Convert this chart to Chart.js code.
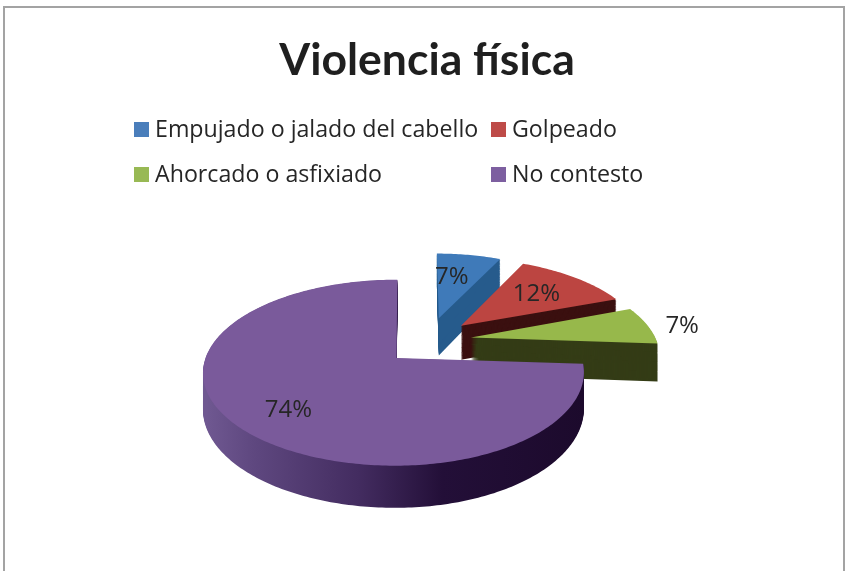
<!DOCTYPE html>
<html lang="es">
<head>
<meta charset="utf-8">
<title>Violencia física</title>
<script src="https://cdn.jsdelivr.net/npm/chart.js@4"></script>
<style>
html,body{margin:0;padding:0;background:#fff;overflow:hidden}
#wrap{position:relative;width:849px;height:571px;overflow:hidden}
#frame{position:absolute;left:3px;top:6px;width:838px;height:600px;border:2px solid #a3a3a3;box-sizing:content-box}
canvas{position:absolute;left:0;top:0}
</style>
</head>
<body>
<div id="wrap"><div id="frame"></div><canvas id="c" width="849" height="571"></canvas></div>
<script>
const categories = ['Empujado o jalado del cabello', 'Golpeado', 'Ahorcado o asfixiado', 'No contesto'];
const values = [7, 12, 7, 74];
const colors = ['#3f7ab9', '#bc4541', '#97b84b', '#7a5a9b'];
const legendSwatches = ['#4a7ebb', '#be4b48', '#98b954', '#7d5fa0'];
const wallColors = ['#265b8c', '#3b1010', '#343c16', null];
const titleText = 'Violencia física';

// Look of the tilted pie
const view = {shiftX: -30.5, shiftY: 0, tilt: 0.475, persp: 0.000826, skew: -0.005};
const explode = [[45, -90], [68, -72], [77, -45], [0, 0]];
const rimShift = [[3, 0], [3, 3], [2, 2], [0, 0]];
const radiusScale = [0.94, 0.98, 0.995, 1.005];
const eastSquash = [1, 1, 1, 0.97];
const depths = [40, 36, 39, 35.5];
const labelSpot = [[0.55, -3, -4], [0.62, 4, 0], [1.2, 3, 4], [0.78, 11, -1]];

function projector(arc, i) {
  const cx = arc.x + view.shiftX, cy = arc.y + view.shiftY;
  return (X, Y, z) => {
    const PX = X + explode[i][0], PY = Y + explode[i][1];
    const w = 1 - view.persp * PY;
    return [cx + (PX + view.skew * PY) / w, cy + (view.tilt * PY + z) / w];
  };
}
function slicePath(ctx, arc, i, z) {
  const p = projector(arc, i), R = arc.outerRadius * radiusScale[i];
  ctx.beginPath();
  const a0 = p(0, 0, z); ctx.moveTo(a0[0], a0[1]);
  const n = Math.max(8, Math.ceil((arc.endAngle - arc.startAngle) * 60));
  for (let k = 0; k <= n; k++) {
    const a = arc.startAngle + (arc.endAngle - arc.startAngle) * k / n;
    let X = R * Math.cos(a);
    if (X > 0) X *= eastSquash[i];
    const q = p(X + rimShift[i][0], R * Math.sin(a) + rimShift[i][1], z);
    ctx.lineTo(q[0], q[1]);
  }
  ctx.closePath();
}
const pie3d = {
  id: 'pie3d',
  beforeDatasetsDraw(chart) {
    const ctx = chart.ctx, arcs = chart.getDatasetMeta(0).data;
    arcs.forEach((arc, i) => {
      let wall = wallColors[i];
      if (!wall) {
        const cx = arc.x + view.shiftX, R = arc.outerRadius;
        wall = ctx.createLinearGradient(cx - R, 0, cx + R, 0);
        wall.addColorStop(0, '#6f5891');
        wall.addColorStop(0.12, '#5f4880');
        wall.addColorStop(0.4, '#432c60');
        wall.addColorStop(0.62, '#230f38');
        wall.addColorStop(1, '#1c0a2c');
      }
      ctx.fillStyle = wall;
      for (let z = depths[i]; z > 0; z--) { slicePath(ctx, arc, i, z); ctx.fill(); }
      ctx.fillStyle = colors[i];
      slicePath(ctx, arc, i, 0); ctx.fill();
    });
    ctx.save();
    ctx.fillStyle = '#262626';
    ctx.font = '24px "Open Sans"';
    ctx.textAlign = 'center'; ctx.textBaseline = 'middle';
    arcs.forEach((arc, i) => {
      const mid = (arc.startAngle + arc.endAngle) / 2, s = labelSpot[i];
      const r = arc.outerRadius * radiusScale[i] * s[0];
      const q = projector(arc, i)(r * Math.cos(mid), r * Math.sin(mid), 0);
      ctx.fillText(values[i] + '%', q[0] + s[1], q[1] + s[2]);
    });
    ctx.restore();
    return false;
  }
};
const gridLegend = {
  id: 'gridLegend',
  afterDraw(chart) {
    const ctx = chart.ctx;
    const colX = [133, 490], rowY = [130, 175];
    ctx.save();
    ctx.font = '23.2px "Open Sans"';
    ctx.textBaseline = 'middle'; ctx.textAlign = 'left';
    categories.forEach((name, i) => {
      const x = colX[i % 2], y = rowY[i >> 1];
      ctx.fillStyle = legendSwatches[i];
      ctx.fillRect(x + 1, y - 8, 15, 15);
      ctx.fillStyle = '#262626';
      ctx.fillText(name, x + 22, y);
    });
    ctx.restore();
  }
};
new Chart(document.getElementById('c'), {
  type: 'pie',
  data: {labels: categories, datasets: [{data: values, backgroundColor: colors, borderWidth: 0}]},
  plugins: [pie3d, gridLegend],
  options: {
    responsive: false,
    animation: false,
    layout: {padding: {left: 5, right: 0, top: 0, bottom: 23}},
    plugins: {
      legend: {display: false},
      tooltip: {enabled: false},
      title: {
        display: true, text: titleText, color: '#1f1f1f',
        font: {family: 'Lato', size: 44.5, weight: 'bold', lineHeight: 1.2},
        padding: {top: 34, bottom: 80.6}
      }
    }
  }
});
</script>
</body>
</html>
